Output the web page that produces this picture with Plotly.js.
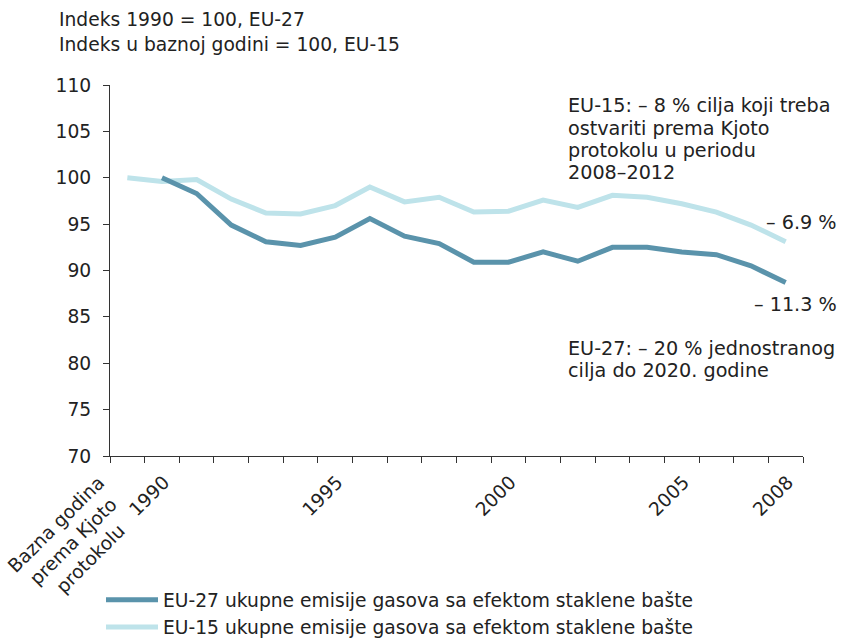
<!DOCTYPE html>
<html>
<head>
<meta charset="utf-8">
<script src="https://cdn.plot.ly/plotly-3.0.1.min.js"></script>
<style>html,body{margin:0;padding:0;background:#fff}#chart{width:843px;height:642px}</style>
</head>
<body>
<div id="chart"></div>
<script>
const categories = ["Bazna godina","1990","1991","1992","1993","1994","1995","1996","1997","1998","1999","2000","2001","2002","2003","2004","2005","2006","2007","2008"];
const tickLabels = ["","1990","","","","","1995","","","","","2000","","","","","2005","","","2008"];
const baseLabel = "Bazna godina<br>prema Kjoto<br>protokolu";
const eu27 = [null,100,98.3,94.9,93.1,92.7,93.6,95.6,93.7,92.9,90.9,90.9,92.0,91.0,92.5,92.5,92.0,91.7,90.5,88.7];
const eu15 = [100,99.6,99.8,97.7,96.2,96.1,97.0,99.0,97.4,97.9,96.3,96.4,97.6,96.8,98.1,97.9,97.2,96.3,94.9,93.1];
const seriesNames = ["EU-27 ukupne emisije gasova sa efektom staklene bašte","EU-15 ukupne emisije gasova sa efektom staklene bašte"];

const W=843,H=642,L=110,R=40,T=85,B=186;
const pw=W-L-R, ph=H-T-B;
const px=x=>(x-L)/pw, py=y=>(H-B-y)/ph;
const font={family:"DejaVu Sans, Verdana, sans-serif",size:18.7,color:"#222"};
const annFont=Object.assign({},font,{size:19.2});

const idx = categories.map((_,i)=>i);
const labelIdx = idx.filter(i=>tickLabels[i]!=="");
const labelTxt = labelIdx.map(i=>tickLabels[i]);
const bounds = categories.map((_,i)=>i-0.5).concat([categories.length-0.5]);

function ann(text,x,y,xanchor,extra){
  return Object.assign({text:text,x:px(x),y:py(y),xref:"paper",yref:"paper",xanchor:xanchor||"left",yanchor:"middle",showarrow:false,align:xanchor||"left",font:font},extra||{});
}

const traces=[
  {x:idx,y:eu15,type:"scatter",mode:"lines",name:seriesNames[1],line:{color:"#bee3ea",width:5},legendrank:2},
  {x:idx,y:eu27,type:"scatter",mode:"lines",name:seriesNames[0],line:{color:"#5a93ab",width:5},legendrank:1}
];

const layout={
  width:W,height:H,margin:{l:L,r:R,t:T,b:B,autoexpand:false},
  paper_bgcolor:"#fff",plot_bgcolor:"#fff",
  font:font,
  showlegend:true,
  legend:{x:px(101),y:py(581),xanchor:"left",yanchor:"top",orientation:"v",traceorder:"normal",itemwidth:52,font:font,bgcolor:"rgba(0,0,0,0)"},
  xaxis:{type:"linear",range:[-0.5,categories.length-0.5],tickmode:"array",tickvals:labelIdx,ticktext:labelTxt,tickangle:-45,ticks:"",
         minor:{tickmode:"array",tickvals:bounds,ticks:"outside",ticklen:6,tickcolor:"#333",showgrid:false},
         showline:true,linecolor:"#333",linewidth:1,showgrid:false,zeroline:false,tickfont:font,ticklabelstandoff:7,ticklabelshift:2,automargin:false,fixedrange:true},
  yaxis:{range:[70,110],dtick:5,tick0:70,ticks:"outside",ticklen:6,tickcolor:"#333",showline:true,linecolor:"#333",linewidth:1,showgrid:false,zeroline:false,tickfont:font,ticklabelstandoff:8,automargin:false,fixedrange:true},
  annotations:[
    ann("Indeks 1990 = 100, EU-27",57,20),
    ann("Indeks u baznoj godini = 100, EU-15",57,45),
    ann("EU-15: – 8 % cilja koji treba",566,105,"left",{font:annFont}),
    ann("ostvariti prema Kjoto",566,128,"left",{font:annFont}),
    ann("protokolu u periodu",566,150,"left",{font:annFont}),
    ann("2008–2012",566,172,"left",{font:annFont}),
    ann("– 6.9 %",839,222,"right",{font:annFont}),
    ann("– 11.3 %",839,304,"right",{font:annFont}),
    ann("EU-27: – 20 % jednostranog",566,348,"left",{font:annFont}),
    ann("cilja do 2020. godine",566,370,"left",{font:annFont}),
    ann(baseLabel,73,542,"center",{textangle:-45})
  ]
};
Plotly.newPlot("chart",traces,layout,{displayModeBar:false,staticPlot:true});
</script>
</body>
</html>
